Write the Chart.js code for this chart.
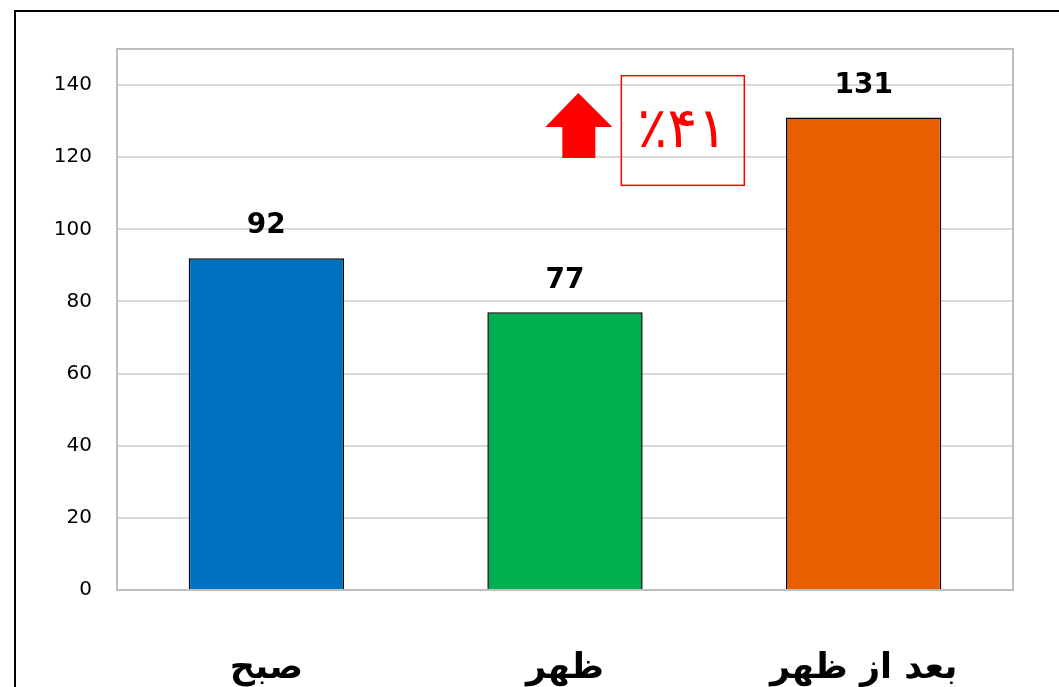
<!DOCTYPE html>
<html>
<head>
<meta charset="utf-8">
<script src="https://cdn.jsdelivr.net/npm/chart.js@4/dist/chart.umd.min.js"></script>
<style>
  html, body { margin: 0; padding: 0; background: #fff; overflow: hidden; }
  #wrap { width: 1059px; height: 687px; }
</style>
</head>
<body>
<div id="wrap"><canvas id="c" width="1059" height="687"></canvas></div>
<script>
// داده‌ها
const categories = ['صبح', 'ظهر', 'بعد از ظهر']
const values = [92, 77, 131]
const barColors = ['#0070c0', '#00b050', '#e85f00']
const yTicks = [0, 20, 40, 60, 80, 100, 120, 140]
const changeText = '٪۴۱'

// قاب بیرونی، کادر ناحیه نمودار و برچسب مقادیر
const decorPlugin = {
    id: 'decor',
    beforeDraw(chart) {
        const ctx = chart.ctx
        ctx.save()
        ctx.fillStyle = '#fff'
        ctx.fillRect(0, 0, chart.width, chart.height)
        ctx.strokeStyle = '#000'
        ctx.lineWidth = 2
        ctx.strokeRect(15, 11, chart.width + 20, chart.height + 20)
        ctx.restore()
    },
    afterDatasetsDraw(chart) {
        const ctx = chart.ctx
        const a = chart.chartArea
        ctx.save()
        ctx.strokeStyle = '#bfbfbf'
        ctx.lineWidth = 2
        ctx.strokeRect(a.left, a.top, a.right - a.left, a.bottom - a.top)

        // برچسب مقدار بالای هر ستون
        ctx.fillStyle = '#000'
        ctx.font = 'bold 28px "DejaVu Sans"'
        ctx.textAlign = 'center'
        ctx.textBaseline = 'bottom'
        chart.getDatasetMeta(0).data.forEach((bar, i) => {
            ctx.fillText(values[i], bar.x, bar.y - 18)
        })

        // فلش و کادر درصد تغییر
        const x = chart.scales.x, y = chart.scales.y
        const bx = x.getPixelForValue(1.5) - 93
        const boxTop = y.getPixelForValue(142.6)
        const boxBot = y.getPixelForValue(112.2)
        ctx.strokeStyle = '#ff0000'
        ctx.lineWidth = 1.5
        ctx.strokeRect(bx, boxTop, 123, boxBot - boxTop)
        ctx.fillStyle = '#ff0000'
        ctx.font = '56px "DejaVu Sans"'
        ctx.textBaseline = 'middle'
        ctx.direction = 'ltr'
        ctx.fillText(changeText, bx + 61, (boxTop + boxBot) / 2 + 2)

        const ax = bx - 43
        const aTop = y.getPixelForValue(137.8)
        const aMid = y.getPixelForValue(128.4)
        const aBot = y.getPixelForValue(119.8)
        ctx.beginPath()
        ctx.moveTo(ax, aTop)
        ctx.lineTo(ax + 34, aMid)
        ctx.lineTo(ax + 17, aMid)
        ctx.lineTo(ax + 17, aBot)
        ctx.lineTo(ax - 16, aBot)
        ctx.lineTo(ax - 16, aMid)
        ctx.lineTo(ax - 33, aMid)
        ctx.closePath()
        ctx.fill()
        ctx.restore()
    }
}

new Chart(document.getElementById('c'), {
    type: 'bar',
    data: {
        labels: categories,
        datasets: [{
            data: values,
            backgroundColor: barColors,
            borderColor: '#000',
            borderWidth: 1.5,
            borderSkipped: 'bottom',
            barPercentage: 0.52,
            categoryPercentage: 1
        }]
    },
    options: {
        responsive: false,
        animation: false,
        layout: { padding: { left: 0, top: 49, right: 46, bottom: 0 } },
        plugins: {
            legend: { display: false },
            tooltip: { enabled: false }
        },
        scales: {
            x: {
                grid: { display: false, drawTicks: false },
                border: { display: false },
                ticks: {
                    color: '#000',
                    padding: 58,
                    font: { family: '"DejaVu Sans"', size: 35, weight: 'bold' }
                },
                afterFit(s) { s.height = 97 }
            },
            y: {
                min: 0,
                max: 150,
                afterBuildTicks(s) { s.ticks = yTicks.map(v => ({ value: v })) },
                grid: { color: '#d9d9d9', lineWidth: 2, drawTicks: false },
                border: { display: false },
                ticks: {
                    color: '#000',
                    padding: 25,
                    font: { family: '"DejaVu Sans"', size: 20 }
                },
                afterFit(s) { s.width = 117 }
            }
        }
    },
    plugins: [decorPlugin]
})
</script>
</body>
</html>
